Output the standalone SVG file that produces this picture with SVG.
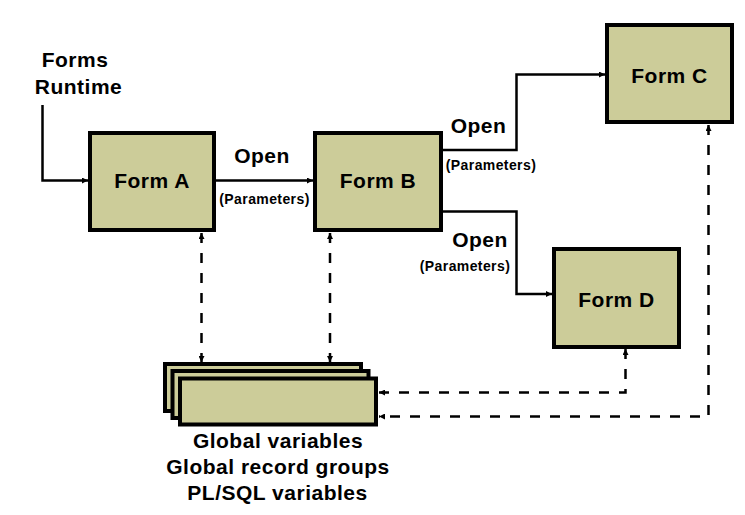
<svg xmlns="http://www.w3.org/2000/svg" width="745" height="515" viewBox="0 0 745 515">
<defs>
<marker id="ah" viewBox="0 0 6 6" refX="6" refY="3" markerWidth="6" markerHeight="6" markerUnits="userSpaceOnUse" orient="auto-start-reverse">
<path d="M0,0 L6,3 L0,6 Z" fill="#000"/>
</marker>
</defs>
<style>
.box{fill:#CCCC99;stroke:#000;stroke-width:4}
.t{font-family:"Liberation Sans",Arial,sans-serif;font-weight:bold;font-size:21px;letter-spacing:0.5px;text-anchor:middle;fill:#000}
.s{font-family:"Liberation Sans",Arial,sans-serif;font-weight:bold;font-size:14px;letter-spacing:0.4px;text-anchor:middle;fill:#000}
.c{fill:none;stroke:#000;stroke-width:2.5}
.d{fill:none;stroke:#000;stroke-width:2.5;stroke-dasharray:10 10}
</style>
<rect width="745" height="515" fill="#fff"/>
<g id="connectors">
<path class="c" d="M42.5,105 V180.5 H88" marker-end="url(#ah)"/>
<path class="c" d="M216,180.5 H313" marker-end="url(#ah)"/>
<path class="c" d="M443,150 H516.5 V74.5 H605" marker-end="url(#ah)"/>
<path class="c" d="M443,211.5 H516.5 V294 H552" marker-end="url(#ah)"/>
<path class="d" d="M201.5,233 V362" marker-start="url(#ah)" marker-end="url(#ah)"/>
<path class="d" d="M330,233 V362" marker-start="url(#ah)" marker-end="url(#ah)"/>
<path class="d" d="M625.5,349 V392.5 H379" marker-start="url(#ah)" marker-end="url(#ah)"/>
<path class="d" d="M708.5,125 V416.5 H379" marker-start="url(#ah)" marker-end="url(#ah)"/>
</g>
<g id="runtime">
<text class="t" x="75" y="67">Forms</text>
<text class="t" x="78.5" y="94">Runtime</text>
</g>
<g id="formA">
<rect class="box" x="90" y="133" width="124" height="97"/>
<text class="t" x="152" y="188">Form A</text>
</g>
<g id="formB">
<rect class="box" x="315" y="133" width="126" height="97"/>
<text class="t" x="378" y="188">Form B</text>
</g>
<g id="formC">
<rect class="box" x="607" y="25" width="125" height="97"/>
<text class="t" x="669.5" y="83">Form C</text>
</g>
<g id="formD">
<rect class="box" x="554" y="249" width="125" height="98"/>
<text class="t" x="616.5" y="307">Form D</text>
</g>
<g id="labels">
<text class="t" x="262" y="163">Open</text>
<text class="s" x="264.5" y="204">(Parameters)</text>
<text class="t" x="478.5" y="133">Open</text>
<text class="s" x="491" y="170">(Parameters)</text>
<text class="t" x="480" y="247">Open</text>
<text class="s" x="465" y="271">(Parameters)</text>
</g>
<g id="globals">
<rect class="box" x="165" y="364" width="196" height="47"/>
<rect class="box" x="172.5" y="371" width="196" height="47"/>
<rect class="box" x="180" y="378.5" width="196" height="46"/>
<text class="t" x="278" y="448">Global variables</text>
<text class="t" x="278" y="474">Global record groups</text>
<text class="t" x="277.5" y="500">PL/SQL variables</text>
</g>
</svg>
